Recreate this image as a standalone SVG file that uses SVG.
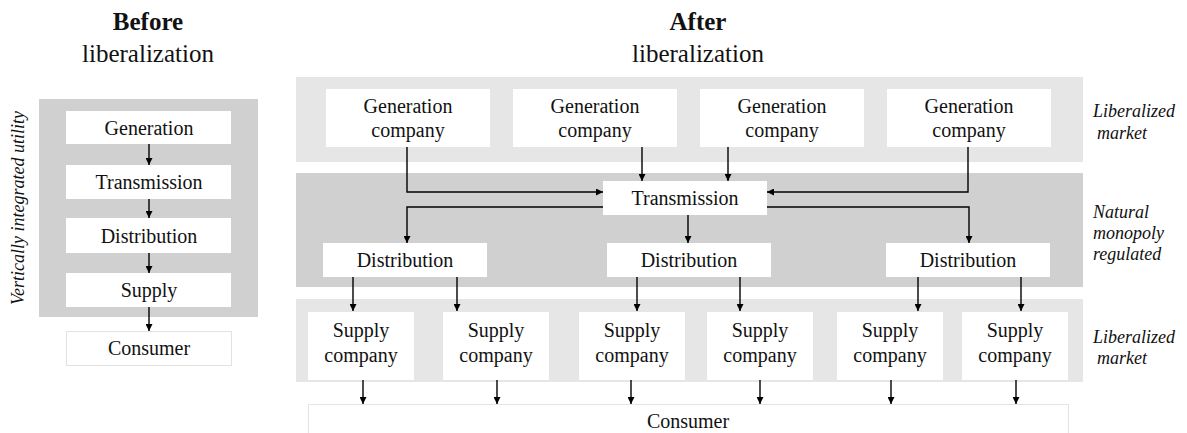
<svg xmlns="http://www.w3.org/2000/svg" width="1187" height="433" viewBox="0 0 1187 433">
  <defs>
    <marker id="arrow" viewBox="0 0 10 10" refX="10" refY="5" markerWidth="7" markerHeight="7" markerUnits="userSpaceOnUse" orient="auto">
      <path d="M0,0 L10,5 L0,10 z" fill="#000"/>
    </marker>
    <style>
      text { font-family: "Liberation Serif", "Times New Roman", serif; fill: #111; }
      .title { font-size: 25px; text-anchor: middle; }
      .bold { font-weight: bold; }
      .lbl { font-size: 20px; text-anchor: middle; }
      .side { font-size: 18px; font-style: italic; }
      .box { fill: #fff; }
      .band-light { fill: #e6e6e6; }
      .band-dark { fill: #d0d0d0; }
      .conn line, .conn polyline { fill: none; stroke: #000; stroke-width: 1.4; marker-end: url(#arrow); }
    </style>
  </defs>

  <rect width="1187" height="433" fill="#fff"/>

  <!-- Background bands -->
  <rect id="utility-band" class="band-dark" x="39" y="99" width="219" height="218"/>
  <rect id="gen-band" class="band-light" x="296" y="77" width="787" height="85"/>
  <rect id="network-band" class="band-dark" x="296" y="173" width="787" height="114"/>
  <rect id="supply-band" class="band-light" x="296" y="299" width="787" height="83"/>

  <!-- Titles -->
  <text class="title bold" x="148" y="30">Before</text>
  <text class="title" x="148" y="62">liberalization</text>
  <text class="title bold" x="698" y="30">After</text>
  <text class="title" x="698" y="62">liberalization</text>

  <!-- Side labels -->
  <text class="side" transform="translate(24 208) rotate(-90)" text-anchor="middle">Vertically integrated utility</text>
  <text class="side" x="1093" y="117">Liberalized</text>
  <text class="side" x="1097" y="139">market</text>
  <text class="side" x="1093" y="218">Natural</text>
  <text class="side" x="1093" y="239">monopoly</text>
  <text class="side" x="1093" y="260">regulated</text>
  <text class="side" x="1093" y="343">Liberalized</text>
  <text class="side" x="1097" y="364">market</text>

  <!-- Integrated utility chain -->
  <g id="l-generation"><rect class="box" x="66" y="111" width="165" height="33"/><text class="lbl" x="149" y="135">Generation</text></g>
  <g id="l-transmission"><rect class="box" x="66" y="165" width="165" height="34"/><text class="lbl" x="149" y="189">Transmission</text></g>
  <g id="l-distribution"><rect class="box" x="66" y="218" width="165" height="35"/><text class="lbl" x="149" y="243">Distribution</text></g>
  <g id="l-supply"><rect class="box" x="66" y="273" width="165" height="34"/><text class="lbl" x="149" y="297">Supply</text></g>
  <g id="l-consumer"><rect class="box" x="66.5" y="331.5" width="165" height="34" stroke="#e2e2e2" stroke-width="1"/><text class="lbl" x="149" y="355">Consumer</text></g>

  <!-- Generation companies -->
  <g id="gen1"><rect class="box" x="326" y="89" width="164" height="58"/><text class="lbl" x="408" y="113">Generation</text><text class="lbl" x="408" y="137">company</text></g>
  <g id="gen2"><rect class="box" x="513" y="89" width="164" height="58"/><text class="lbl" x="595" y="113">Generation</text><text class="lbl" x="595" y="137">company</text></g>
  <g id="gen3"><rect class="box" x="700" y="89" width="164" height="58"/><text class="lbl" x="782" y="113">Generation</text><text class="lbl" x="782" y="137">company</text></g>
  <g id="gen4"><rect class="box" x="887" y="89" width="164" height="58"/><text class="lbl" x="969" y="113">Generation</text><text class="lbl" x="969" y="137">company</text></g>

  <!-- Transmission -->
  <g id="transmission"><rect class="box" x="603" y="181" width="164" height="34"/><text class="lbl" x="685" y="205">Transmission</text></g>

  <!-- Distribution -->
  <g id="dist1"><rect class="box" x="323" y="243" width="164" height="34"/><text class="lbl" x="405" y="267">Distribution</text></g>
  <g id="dist2"><rect class="box" x="607" y="243" width="164" height="34"/><text class="lbl" x="689" y="267">Distribution</text></g>
  <g id="dist3"><rect class="box" x="886" y="243" width="164" height="34"/><text class="lbl" x="968" y="267">Distribution</text></g>

  <!-- Supply companies -->
  <g id="sup1"><rect class="box" x="308" y="312" width="106" height="68"/><text class="lbl" x="361" y="337">Supply</text><text class="lbl" x="361" y="362">company</text></g>
  <g id="sup2"><rect class="box" x="443" y="312" width="106" height="68"/><text class="lbl" x="496" y="337">Supply</text><text class="lbl" x="496" y="362">company</text></g>
  <g id="sup3"><rect class="box" x="579" y="312" width="106" height="68"/><text class="lbl" x="632" y="337">Supply</text><text class="lbl" x="632" y="362">company</text></g>
  <g id="sup4"><rect class="box" x="707" y="312" width="106" height="68"/><text class="lbl" x="760" y="337">Supply</text><text class="lbl" x="760" y="362">company</text></g>
  <g id="sup5"><rect class="box" x="837" y="312" width="106" height="68"/><text class="lbl" x="890" y="337">Supply</text><text class="lbl" x="890" y="362">company</text></g>
  <g id="sup6"><rect class="box" x="962" y="312" width="106" height="68"/><text class="lbl" x="1015" y="337">Supply</text><text class="lbl" x="1015" y="362">company</text></g>

  <!-- Consumer -->
  <g id="consumer"><rect class="box" x="308.5" y="404.5" width="760" height="40" stroke="#e4e4e4" stroke-width="1"/><text class="lbl" x="688" y="428">Consumer</text></g>

  <!-- Connectors -->
  <g id="connectors" class="conn">
    <!-- integrated chain -->
    <line x1="149" y1="144" x2="149" y2="165"/>
    <line x1="149" y1="199" x2="149" y2="218"/>
    <line x1="149" y1="253" x2="149" y2="273"/>
    <line x1="149" y1="307" x2="149" y2="331"/>

    <!-- generation to transmission -->
    <polyline points="407,147 407,192 603,192"/>
    <line x1="642" y1="147" x2="642" y2="181"/>
    <line x1="728" y1="147" x2="728" y2="181"/>
    <polyline points="968,147 968,192 767,192"/>

    <!-- transmission to distribution -->
    <polyline points="603,207 407,207 407,243"/>
    <line x1="688" y1="215" x2="688" y2="243"/>
    <polyline points="767,207 969,207 969,243"/>

    <!-- distribution to supply -->
    <line x1="353" y1="277" x2="353" y2="311"/>
    <line x1="457" y1="277" x2="457" y2="311"/>
    <line x1="637" y1="277" x2="637" y2="311"/>
    <line x1="740" y1="277" x2="740" y2="311"/>
    <line x1="918" y1="277" x2="918" y2="311"/>
    <line x1="1021" y1="277" x2="1021" y2="311"/>

    <!-- supply to consumer -->
    <line x1="363" y1="380" x2="363" y2="404"/>
    <line x1="497" y1="380" x2="497" y2="404"/>
    <line x1="631" y1="380" x2="631" y2="404"/>
    <line x1="760" y1="380" x2="760" y2="404"/>
    <line x1="891" y1="380" x2="891" y2="404"/>
    <line x1="1016" y1="380" x2="1016" y2="404"/>
  </g>
</svg>
